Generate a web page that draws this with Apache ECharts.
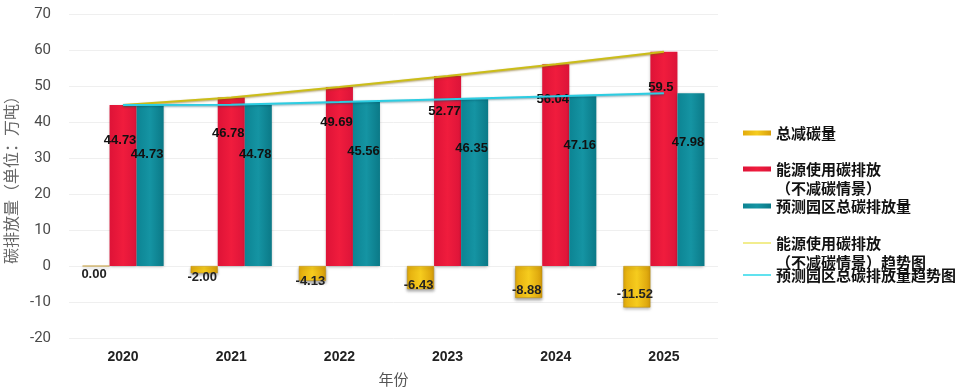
<!DOCTYPE html>
<html>
<head>
<meta charset="utf-8">
<script src="https://cdn.jsdelivr.net/npm/echarts@6/dist/echarts.min.js"></script>
<style>
  html, body { margin: 0; padding: 0; background: #fff; }
  #chart { width: 959px; height: 391px; }
</style>
</head>
<body>
<div id="chart"></div>
<script>
const years = ['2020', '2021', '2022', '2023', '2024', '2025'];
const totalReduction = [0.00, -2.00, -4.13, -6.43, -8.88, -11.52];
const energyEmission = [44.73, 46.78, 49.69, 52.77, 56.04, 59.5];
const parkEmission = [44.73, 44.78, 45.56, 46.35, 47.16, 47.98];
const yMin = -20;
const yMax = 70;
const yStep = 10;

const NAME_REDUCTION = '总减碳量';
const NAME_ENERGY = '能源使用碳排放（不减碳情景）';
const NAME_PARK = '预测园区总碳排放量';
const NAME_ENERGY_TREND = '能源使用碳排放（不减碳情景）趋势图';
const NAME_PARK_TREND = '预测园区总碳排放量趋势图';

const cjk = '"Noto Sans CJK SC", "Noto Sans", sans-serif';
const num = '"Liberation Sans", Arial, sans-serif';

const hGrad = (a, b, c) => new echarts.graphic.LinearGradient(0, 0, 1, 0, [
  { offset: 0, color: a }, { offset: 0.5, color: b }, { offset: 1, color: c },
]);

const barLabel = (extra) => Object.assign({
  show: true,
  color: '#111',
  fontSize: 13,
  fontWeight: 'bold',
  fontFamily: num,
}, extra);

// legend: one block per item so the spacing can follow the original;
// the icon sits on the first text line (empty points pin the path box to 0..38)
const LINE_H = 19;
const BAR_ICON_1 = 'path://M0,7h28v5H0z';
const BAR_ICON_2 = 'path://M0,0h0.01 M0,7h28v5H0z M0,38h0.01';
const LINE_ICON_1 = 'path://M0,8.75h28v1.5H0z';
const LINE_ICON_2 = 'path://M0,0h0.01 M0,8.75h28v1.5H0z M0,38h0.01';

const legendItem = (name, lineY, twoLines, icon) => ({
  data: [name],
  orient: 'vertical',
  left: 743,
  top: lineY - LINE_H / 2,
  padding: 0,
  itemWidth: 28,
  itemHeight: twoLines ? LINE_H * 2 : LINE_H,
  icon: icon,
  formatter: (n) => n.replace('（', '\n（'),
  itemStyle: { borderWidth: 0 },
  textStyle: {
    color: '#111',
    fontSize: 15,
    fontWeight: 'bold',
    fontFamily: cjk,
    lineHeight: LINE_H,
  },
});

const chart = echarts.init(document.getElementById('chart'), null, { renderer: 'canvas' });

chart.setOption({
  animation: false,
  grid: { left: 69, right: 241, top: 14, bottom: 53, outerBoundsMode: 'none' },
  legend: [
    legendItem(NAME_REDUCTION, 133, false, BAR_ICON_1),
    legendItem(NAME_ENERGY, 169, true, BAR_ICON_2),
    legendItem(NAME_PARK, 206, false, BAR_ICON_1),
    legendItem(NAME_ENERGY_TREND, 243, true, LINE_ICON_2),
    legendItem(NAME_PARK_TREND, 275, false, LINE_ICON_1),
  ],
  xAxis: {
    type: 'category',
    data: years,
    name: '年份',
    nameLocation: 'middle',
    nameGap: 34,
    nameTextStyle: { color: '#555', fontSize: 15, fontFamily: cjk },
    axisLine: { show: false, onZero: false },
    axisTick: { show: false },
    axisLabel: { color: '#222', fontSize: 14, fontWeight: 'bold', fontFamily: num, margin: 12 },
  },
  yAxis: {
    type: 'value',
    min: yMin,
    max: yMax,
    interval: yStep,
    name: '碳排放量（单位：万吨）',
    nameLocation: 'middle',
    nameGap: 40,
    nameRotate: 90,
    nameTextStyle: { color: '#666', fontSize: 16, fontFamily: cjk },
    axisLine: { show: false },
    axisTick: { show: false },
    axisLabel: { color: '#4a4a4a', fontSize: 15, fontFamily: 'Roboto, sans-serif', margin: 18 },
    splitLine: { lineStyle: { color: '#efefef' } },
  },
  series: [
    {
      name: NAME_REDUCTION,
      type: 'bar',
      data: totalReduction,
      barGap: '0%',
      barCategoryGap: '25%',
      itemStyle: {
        color: hGrad('#e2ab0c', '#f6cc1e', '#d89e0a'),
        borderColor: '#b98a10',
        borderWidth: 0.5,
        shadowBlur: 3,
        shadowColor: 'rgba(0,0,0,0.35)',
        shadowOffsetY: 2,
      },
      label: barLabel({
        position: 'inside',
        offset: [-2, 8],
        color: '#222',
        formatter: (p) => p.value.toFixed(2),
      }),
    },
    {
      name: NAME_ENERGY,
      type: 'bar',
      data: energyEmission,
      itemStyle: {
        color: hGrad('#de1337', '#f01c3d', '#dc1439'),
        shadowBlur: 3,
        shadowColor: 'rgba(0,0,0,0.3)',
        shadowOffsetY: 1,
      },
      label: barLabel({ position: 'insideTop', offset: [-3, 24] }),
    },
    {
      name: NAME_PARK,
      type: 'bar',
      data: parkEmission,
      itemStyle: {
        color: hGrad('#0c8493', '#1594a3', '#0b7987'),
        shadowBlur: 3,
        shadowColor: 'rgba(0,0,0,0.3)',
        shadowOffsetY: 1,
      },
      label: barLabel({ position: 'insideTop', offset: [-3, 38] }),
    },
    {
      name: NAME_ENERGY_TREND,
      type: 'line',
      data: energyEmission,
      symbol: 'none',
      z: 5,
      lineStyle: { color: '#cbbd18', width: 2, shadowBlur: 2, shadowColor: 'rgba(120,90,0,0.6)', shadowOffsetY: 1 },
      itemStyle: { color: '#eee86a', borderWidth: 0 },
    },
    {
      name: NAME_PARK_TREND,
      type: 'line',
      data: parkEmission,
      symbol: 'none',
      z: 5,
      lineStyle: { color: '#2ccde2', width: 2, shadowBlur: 2, shadowColor: 'rgba(0,80,100,0.5)', shadowOffsetY: 1 },
      itemStyle: { color: '#2cd8ea', borderWidth: 0 },
    },
  ],
});
</script>
</body>
</html>
